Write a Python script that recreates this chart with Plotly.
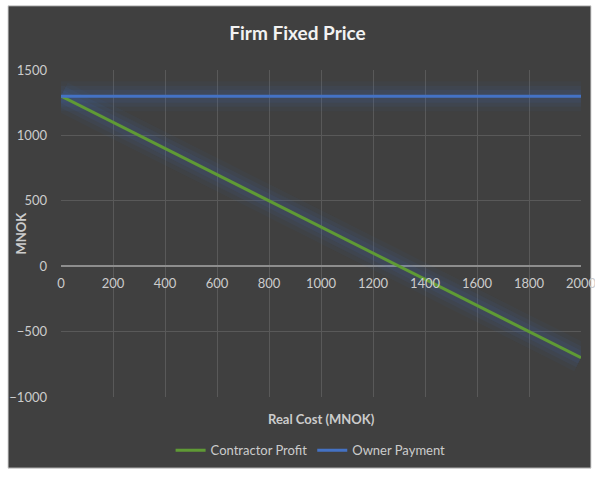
import plotly.graph_objects as go

# Firm fixed price contract: contractor profit vs. real cost
real_cost = [0, 200, 400, 600, 800, 1000, 1200, 1400, 1600, 1800, 2000]
contractor_profit = [1300, 1100, 900, 700, 500, 300, 100, -100, -300, -500, -700]
owner_payment = [1300, 1300, 1300, 1300, 1300, 1300, 1300, 1300, 1300, 1300, 1300]

x_ticks = [0, 200, 400, 600, 800, 1000, 1200, 1400, 1600, 1800, 2000]
y_ticks = [-1000, -500, 0, 500, 1000, 1500]

GREEN = "#5f9a35"
BLUE = "#4472c4"
TEXT = "#cccccc"
FONT = "Lato"

fig = go.Figure()

# soft blue glow under each line
for series in (contractor_profit, owner_payment):
    for w, a in ((30, 0.05), (21, 0.07), (13, 0.09)):
        fig.add_trace(go.Scatter(
            x=real_cost, y=series, mode="lines",
            line=dict(color=f"rgba(68,114,196,{a})", width=w),
            hoverinfo="skip", showlegend=False))

fig.add_trace(go.Scatter(x=real_cost, y=contractor_profit, mode="lines",
                         name="Contractor Profit",
                         line=dict(color=GREEN, width=3)))
fig.add_trace(go.Scatter(x=real_cost, y=owner_payment, mode="lines",
                         name="Owner Payment",
                         line=dict(color=BLUE, width=3)))

fig.update_layout(
    width=595, height=477,
    margin=dict(l=61, r=14, t=70, b=76),
    paper_bgcolor="white",
    plot_bgcolor="rgba(0,0,0,0)",
    font=dict(family=FONT, color=TEXT, size=13),
    title=dict(text="Firm Fixed Price", x=0.5, xanchor="center",
               y=1 - 33 / 477, yanchor="middle",
               font=dict(family=FONT, size=19, color="#f2f2f2", weight="bold")),
    showlegend=True,
    legend=dict(orientation="h", x=0.48, xanchor="center", y=-0.163,
                yanchor="middle", bgcolor="rgba(0,0,0,0)",
                font=dict(family=FONT, size=13, color=TEXT),
                itemwidth=30, tracegroupgap=0),
    xaxis=dict(range=[0, 2000], tickvals=x_ticks, showgrid=True,
               gridcolor="#595959", gridwidth=1, zeroline=False,
               anchor="free", position=0.4, showline=False,
               automargin=False, ticklabelstandoff=8,
               ticklabeloverflow="allow",
               ticks="", tickfont=dict(color=TEXT, size=13)),
    yaxis=dict(range=[-1000, 1500], tickvals=y_ticks, showgrid=True,
               gridcolor="#595959", gridwidth=1, zeroline=True,
               zerolinecolor="#8e8e8e", zerolinewidth=1.5,
               automargin=False, ticklabelstandoff=13,
               ticklabeloverflow="allow",
               ticks="", tickfont=dict(color=TEXT, size=13)),
    shapes=[dict(type="rect", xref="paper", yref="paper",
                 x0=(8 - 61) / 520, x1=(591 - 61) / 520,
                 y0=(401 - 473) / 331, y1=(401 - 5) / 331,
                 fillcolor="#404040", line=dict(color="#d4d4d4", width=1),
                 layer="below")],
    annotations=[
        dict(text="Real Cost (MNOK)", xref="paper", yref="paper",
             x=0.5, y=(401 - 423) / 331, showarrow=False,
             xanchor="center", yanchor="middle",
             font=dict(family=FONT, size=13, color=TEXT, weight="bold")),
        dict(text="MNOK", xref="paper", yref="paper",
             x=(20 - 61) / 520, y=0.5, showarrow=False, textangle=-90,
             xanchor="center", yanchor="middle",
             font=dict(family=FONT, size=13, color=TEXT, weight="bold")),
    ],
)

fig.write_html("out.html")
